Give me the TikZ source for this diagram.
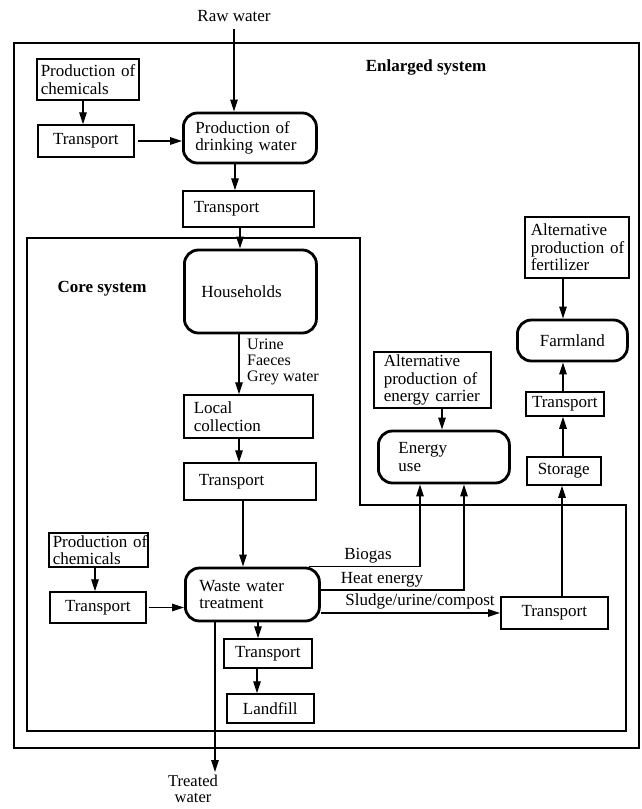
\documentclass[tikz,border=0pt]{standalone}
\usepackage{fontspec}
\setmainfont{Liberation Serif}
\usetikzlibrary{arrows.meta}
\newcommand\dfont{\fontsize{17}{17.5}\selectfont}
\newcommand\bx[8]{%
  \pgfmathsetmacro\bxw{#5-#3-2*#7}%
  \pgfmathsetmacro\bxh{#6-#4}%
  \pgfmathsetmacro\bxy{(#4+#6)/2}%
  \node[#2, anchor=west, inner xsep=#7pt, text width=\bxw pt, minimum height=\bxh pt] (#1) at (#3,\bxy) {#8};}
\tikzset{
  base/.style={font=\dfont, inner ysep=0pt},
  box/.style={base, draw, line width=1.5pt, align=center},
  boxl/.style={box, align=left},
  rbox/.style={base, draw, line width=2.8pt, rounded corners=14pt, align=left},
  arr/.style={-{Triangle[length=12pt,width=7.5pt]}, line width=1.3pt},
  lab/.style={font=\dfont, inner sep=0pt},
  ttl/.style={font=\dfont\bfseries, inner sep=0pt}
}
\begin{document}
\begin{tikzpicture}[x=1pt,y=-1pt]
\fill[white] (0,0) rectangle (641,809);
\useasboundingbox (0,0) rectangle (641,809);
% frames
\draw[line width=2.8pt] (14,43) rectangle (639,748);
\draw[line width=2.4pt] (27,238) -- (360,238) -- (360,505) -- (626,505) -- (626,731) -- (27,731) -- cycle;
% titles and labels
\node[ttl] (enl) at (426,67) {Enlarged system};
\node[ttl] (core) at (102,289) {Core system};
\node[lab] (raw) at (234,16) {Raw water};
\node[lab, align=center, font=\fontsize{16.5}{16}\selectfont] (treated) at (193,789) {Treated\\water};
\node[lab, anchor=west, align=left, font=\fontsize{16}{16}\selectfont] (ufg) at (247,362) {Urine\\Faeces\\Grey water};
\node[lab] (biogas) at (368,556) {Biogas};
\node[lab] (heat) at (382,580) {Heat energy};
\node[lab] (sludge) at (420,601) {Sludge/urine/compost};
% boxes
\bx{chem1}{boxl}{36}{59}{138}{100}{4}{Production~of\\chemicals}
\bx{tr1}{box}{37}{125}{133}{157}{2}{Transport}
\bx{dw}{rbox}{182}{113}{315}{163}{12}{Production~of\\drinking~water}
\bx{tr2}{boxl}{182}{191}{313}{227}{11}{Transport}
\bx{hh}{rbox}{183}{250}{315}{333}{17}{Households}
\bx{lc}{boxl}{183}{395}{312}{438}{10}{Local\\collection}
\bx{tr3}{boxl}{183}{463}{315}{500}{15}{Transport}
\bx{chem2}{boxl}{48}{533}{147}{567}{4}{Production~of\\chemicals}
\bx{tr4}{box}{49}{592}{145}{623}{2}{Transport}
\bx{wwt}{rbox}{184}{568}{318}{621}{14}{Waste~water\\treatment}
\bx{tr5}{box}{223}{639}{311}{668}{2}{Transport}
\bx{lf}{box}{226}{694}{313}{723}{2}{Landfill}
\bx{tr6}{box}{500}{597}{607}{629}{2}{Transport}
\bx{fert}{boxl}{524}{217}{628}{278}{6}{Alternative\\production~of\\fertilizer}
\bx{farm}{rbox, align=center}{516}{320}{626}{361}{2}{Farmland}
\bx{tr7}{box}{525}{392}{603}{416}{2}{Transport}
\bx{sto}{box}{526}{457}{600}{485}{2}{Storage}
\bx{altE}{boxl}{373}{352}{490}{408}{10}{Alternative\\production~of\\energy~carrier}
\bx{eu}{rbox}{377}{431}{508}{483}{20}{Energy\\use}
% guides
\coordinate (g83) at (83,0);
\coordinate (g95) at (95,0);
\coordinate (g235) at (235,0);
\coordinate (g239) at (239,0);
\coordinate (g240) at (240,0);
\coordinate (g243) at (243,0);
\coordinate (g257) at (257,0);
\coordinate (g258) at (258,0);
\coordinate (g420) at (420,0);
\coordinate (g442) at (442,0);
\coordinate (g464) at (464,0);
\coordinate (g562) at (562,0);
\coordinate (g563) at (563,0);
\coordinate (h590) at (0,590);
\coordinate (twend) at (215,772);
% connectors
\draw[arr] ([yshift=-7pt]raw.south) -- (raw.south |- dw.north);
\draw[arr] (chem1.south -| g83) -- (tr1.north -| g83);
\draw[arr] ([xshift=3pt]tr1.east) -- (tr1.east -| dw.west);
\draw[arr] (dw.south -| g235) -- (tr2.north -| g235);
\draw[arr] (tr2.south -| g240) -- (hh.north -| g240);
\draw[arr] (hh.south -| g239) -- (lc.north -| g239);
\draw[arr] (lc.south -| g239) -- (tr3.north -| g239);
\draw[arr] (tr3.south -| g243) -- (wwt.north -| g243);
\draw[arr] (chem2.south -| g95) -- (tr4.north -| g95);
\draw[arr] ([xshift=2pt]tr4.east) -- (tr4.east -| wwt.west);
\draw[arr] (wwt.south -| g258) -- (tr5.north -| g258);
\draw[arr] (tr5.south -| g257) -- (lf.north -| g257);
\draw[arr] (wwt.south -| twend) -- (twend);
\draw[arr] ([xshift=-12pt]wwt.north east) -| (eu.south -| g420);
\draw[arr] (wwt.east |- h590) -| (eu.south -| g464);
\draw[arr] (wwt.east |- tr6.west) -- (tr6.west);
\draw[arr] (tr6.north -| g562) -- (sto.south -| g562);
\draw[arr] (sto.north -| g563) -- (tr7.south -| g563);
\draw[arr] (tr7.north -| g563) -- (farm.south -| g563);
\draw[arr] (fert.south -| g563) -- (farm.north -| g563);
\draw[arr] (altE.south -| g442) -- (eu.north -| g442);
\end{tikzpicture}
\end{document}
